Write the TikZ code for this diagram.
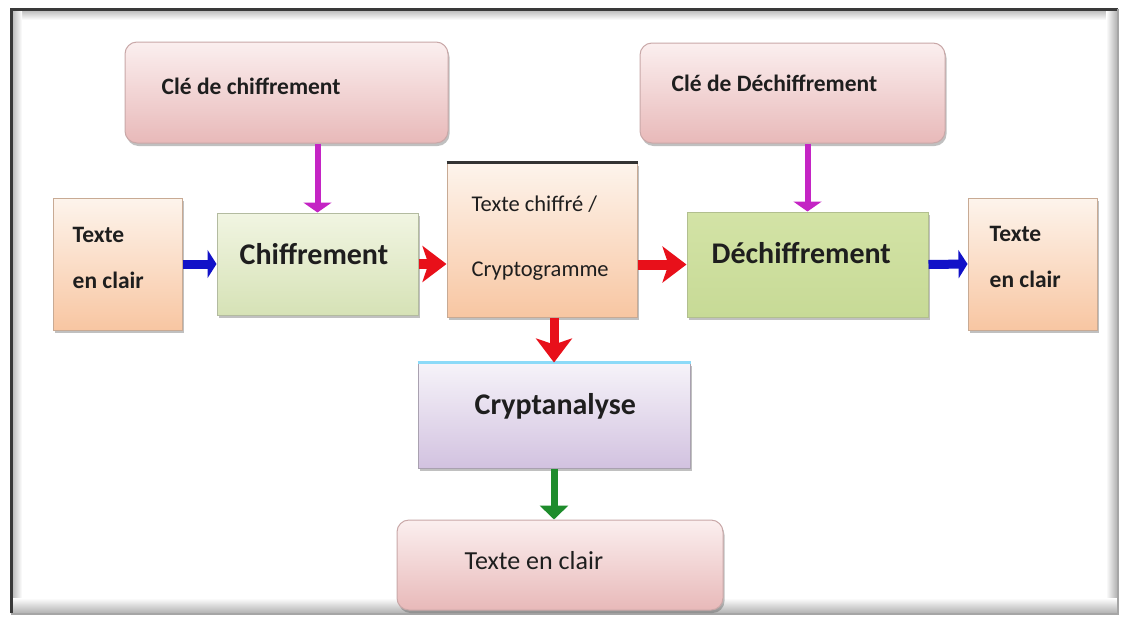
\documentclass[tikz,border=0pt]{standalone}
\usepackage{fontspec}
\setmainfont{Carlito}
\usetikzlibrary{arrows.meta,shadings,shadows,calc}

\definecolor{txt}{HTML}{1E1E1E}
\definecolor{pinkT}{HTML}{FBEFEF}
\definecolor{pinkB}{HTML}{E8B9B9}
\definecolor{peachT}{HTML}{FDF4EC}
\definecolor{peachB}{HTML}{F8C6A2}
\definecolor{greenT}{HTML}{F1F5E2}
\definecolor{greenB}{HTML}{D6E2B6}
\definecolor{dgreenT}{HTML}{D3E3A6}
\definecolor{dgreenM}{HTML}{EEF4E0}
\definecolor{dgreenB}{HTML}{C7DA96}
\definecolor{lilacT}{HTML}{F6F3F9}
\definecolor{lilacB}{HTML}{D2C2E0}
\definecolor{arrBlue}{HTML}{1212C8}
\definecolor{arrRed}{HTML}{E8101A}
\definecolor{arrMag}{HTML}{C424C4}
\definecolor{arrGreen}{HTML}{1E8C2C}

\tikzset{
  box/.style={draw=#1, line width=1pt, inner sep=0pt,
    drop shadow={shadow xshift=1.5pt, shadow yshift=-3pt, opacity=0.35, fill=black!70}},
  keybox/.style={box=pinkB!70!gray, rounded corners=12pt, top color=pinkT, bottom color=pinkB},
  plainbox/.style={box=peachB!60!gray, top color=peachT, bottom color=peachB},
  encbox/.style={box=greenB!60!gray, top color=greenT, bottom color=greenB},
  decbox/.style={box=dgreenB!70!gray, top color=dgreenT, middle color=dgreenM, bottom color=dgreenB},
  anbox/.style={box=lilacB!50!gray, top color=lilacT, bottom color=lilacB},
  lbl/.style={anchor=west, text=txt, inner sep=0pt, align=left},
  big/.style={lbl, font=\fontsize{30}{34}\selectfont\bfseries},
  mid/.style={lbl, font=\fontsize{23.5}{27}\selectfont\bfseries},
  side/.style={lbl, font=\fontsize{23.5}{46}\selectfont\bfseries},
  small/.style={lbl, font=\fontsize{22.5}{65}\selectfont},
  flow/.style={line width=10pt, -{Stealth[length=24pt,width=36pt,inset=6pt]}},
  feed/.style={line width=9pt, -{Triangle[length=9pt,width=28pt]}},
  keyarrow/.style={line width=6pt, arrMag, -{Triangle[length=10pt,width=28pt]}},
}

\begin{document}
\begin{tikzpicture}[x=1pt, y=-1pt]
  % page and frame
  \useasboundingbox (0,0) rectangle (1122,619);
  \fill[white] (0,0) rectangle (1122,619);
  \shade[top color=gray!55, bottom color=white] (12,10) rectangle (1117,20);
  \shade[left color=gray!55, right color=white] (12,10) rectangle (22,613);
  \shade[left color=white, right color=gray!60] (1106,10) rectangle (1117,613);
  \shade[top color=white, bottom color=gray!60] (12,598) rectangle (1117,613);
  \draw[gray!45!black, line width=3pt] (11,613) -- (11,9) -- (1118,9);
  \draw[gray!70, line width=2pt] (1118,9) -- (1118,614) -- (11,614);

  % boxes
  \node[keybox, minimum width=323, minimum height=101] (k1) at (286.5,92.5) {};
  \node[keybox, minimum width=305, minimum height=100] (k2) at (792.5,93) {};
  \node[plainbox, minimum width=129, minimum height=132] (tl) at (117.5,264) {};
  \node[encbox, minimum width=201, minimum height=102] (chif) at (317.5,264) {};
  \node[plainbox, minimum width=190, minimum height=154] (ct) at (542,240) {};
  \draw[gray!40!black, line width=2.5pt] (ct.north west) -- (ct.north east);
  \node[decbox, minimum width=241, minimum height=105] (dech) at (807.5,264.5) {};
  \node[plainbox, minimum width=129, minimum height=132] (tr) at (1032.5,264) {};
  \node[anbox, minimum width=272, minimum height=105] (ca) at (554,415.5) {};
  \draw[cyan!45!white, line width=2.5pt] (ca.north west) -- (ca.north east);
  \node[keybox, minimum width=326, minimum height=90] (te) at (560,565) {};

  % labels
  \node[mid] (k1t) at ($(k1.west)+(37,-6)$) {Clé de chiffrement};
  \node[mid] (k2t) at ($(k2.west)+(32,-10)$) {Clé de Déchiffrement};
  \node[side] (tlt) at ($(tl.west)+(20,-6)$) {Texte\\en clair};
  \node[big] (chift) at ($(chif.west)+(23,-10)$) {Chiffrement};
  \node[small] (ctt) at ($(ct.west)+(25,-2)$) {Texte chiffré /\\Cryptogramme};
  \node[big] (decht) at ($(dech.west)+(25,-11)$) {Déchiffrement};
  \node[side] (trt) at ($(tr.west)+(22,-7)$) {Texte\\en clair};
  \node[big] (cat) at ($(ca.west)+(57,-9)$) {Cryptanalyse};
  \node[lbl, font=\fontsize{26}{30}\selectfont] (tet) at ($(te.west)+(68,-4)$) {Texte en clair};

  % connectors
  \draw[keyarrow] (k1.south -| chif.north) -- (chif.north);
  \draw[keyarrow] (k2.south -| dech.north) -- (dech.north);
  \draw[feed, arrBlue] (tl.east) -- (chif.west);
  \draw[flow, arrRed] (chif.east) -- (chif.east -| ct.west);
  \draw[flow, arrRed] (ct.east |- dech.west) -- (dech.west);
  \draw[feed, arrBlue] (dech.east) -- (tr.west);
  \draw[flow, arrRed, line width=9pt] (ct.south -| ca.north) -- (ca.north);
  \draw[line width=7pt, arrGreen, -{Triangle[length=14pt,width=28pt]}] (ca.south) -- (ca.south |- te.north);
\end{tikzpicture}
\end{document}
